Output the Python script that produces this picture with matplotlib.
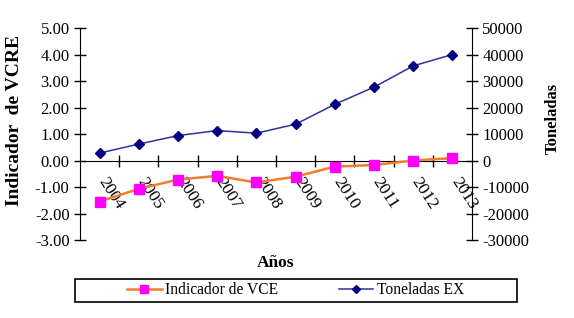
import matplotlib.pyplot as plt
import matplotlib.transforms as mtransforms
from matplotlib.lines import Line2D
from matplotlib.patches import Rectangle

# Data
years = ['2004', '2005', '2006', '2007', '2008', '2009', '2010', '2011', '2012', '2013']
vce = [-1.55, -1.07, -0.72, -0.58, -0.83, -0.61, -0.23, -0.17, 0.0, 0.09]
toneladas = [2800, 6200, 9400, 11300, 10300, 13700, 21200, 27700, 35700, 40000]
left_ticks = [-3, -2, -1, 0, 1, 2, 3, 4, 5]
right_ticks = [-30000, -20000, -10000, 0, 10000, 20000, 30000, 40000, 50000]

plt.rcParams['font.family'] = ['Liberation Serif', 'DejaVu Serif']

W, H = 574, 318
fig = plt.figure(figsize=(W / 100, H / 100), dpi=100)
ax = fig.add_axes([80 / W, 1 - 240 / H, 392 / W, 212 / H])
ax2 = ax.twinx()

orange, magenta = '#F07E2C', '#FF00FF'
blue, navy = '#3030A0', '#000080'

x = list(range(len(years)))
ax.plot(x, vce, '-', color=orange, lw=1.8, marker='s', ms=6.5,
        mfc=magenta, mec=magenta, zorder=3)
ax2.plot(x, toneladas, '-', color=blue, lw=1.1, marker='D', ms=5,
         mfc=navy, mec=navy)

ax.set_xlim(-0.5, len(years) - 0.5)
ax.set_ylim(-3, 5)
ax2.set_ylim(-30000, 50000)
ax.set_yticks(left_ticks)
ax.set_yticklabels(['%.2f' % v for v in left_ticks])
ax2.set_yticks(right_ticks)
ax2.set_yticklabels([str(v) for v in right_ticks])

for a in (ax, ax2):
    a.spines['top'].set_visible(False)
    a.patch.set_visible(False)
ax2.spines['bottom'].set_visible(False)
ax2.spines['left'].set_visible(False)
ax.spines['right'].set_visible(False)
ax.spines['bottom'].set_position(('data', 0))

ax.set_xticks(x)
ax.set_xticklabels(years, rotation=-57, ha='left', va='top')
ax.set_xticks([i + 0.5 for i in x[:-1]], minor=True)
ax.tick_params(axis='x', which='major', length=0, pad=10, labelsize=12.5)
ax.tick_params(axis='x', which='minor', direction='inout', length=9, width=1)
ax.tick_params(axis='y', direction='inout', length=8, width=1, labelsize=12)
ax2.tick_params(axis='y', direction='inout', length=8, width=1, labelsize=12)
shift = mtransforms.ScaledTranslation(-5 / 100, 0, fig.dpi_scale_trans)
for lab in ax.get_xticklabels():
    lab.set_transform(lab.get_transform() + shift)

fig.text(15 / W, 1 - 121 / H, 'Indicador  de VCRE', rotation=90, fontsize=14,
         fontweight='bold', ha='center', va='center')
fig.text(553 / W, 1 - 118 / H, 'Toneladas', rotation=90, fontsize=12,
         fontweight='bold', ha='center', va='center')
fig.text(276 / W, 1 - 263 / H, 'Años', fontsize=12.5, fontweight='bold',
         ha='center', va='center')

# legend: frameless entries inside a drawn box
fig.patches.append(Rectangle((75 / W, 1 - 302 / H), 442 / W, 23 / H,
                             transform=fig.transFigure, fill=False,
                             edgecolor='black', lw=1.2))
h1 = Line2D([], [], color=orange, lw=1.8, marker='s', ms=6, mfc=magenta, mec=magenta)
h2 = Line2D([], [], color=blue, lw=1.1, marker='D', ms=4, mfc=navy, mec=navy)
fig.legend([h1, h2], ['Indicador de VCE', 'Toneladas EX'], ncol=2,
           loc='center', bbox_to_anchor=(296 / W, 1 - 290.5 / H),
           fontsize=11.2, frameon=False, handlelength=2.2, handletextpad=0.25,
           columnspacing=3.9, borderpad=0)

fig.savefig('out.png', dpi=100)
